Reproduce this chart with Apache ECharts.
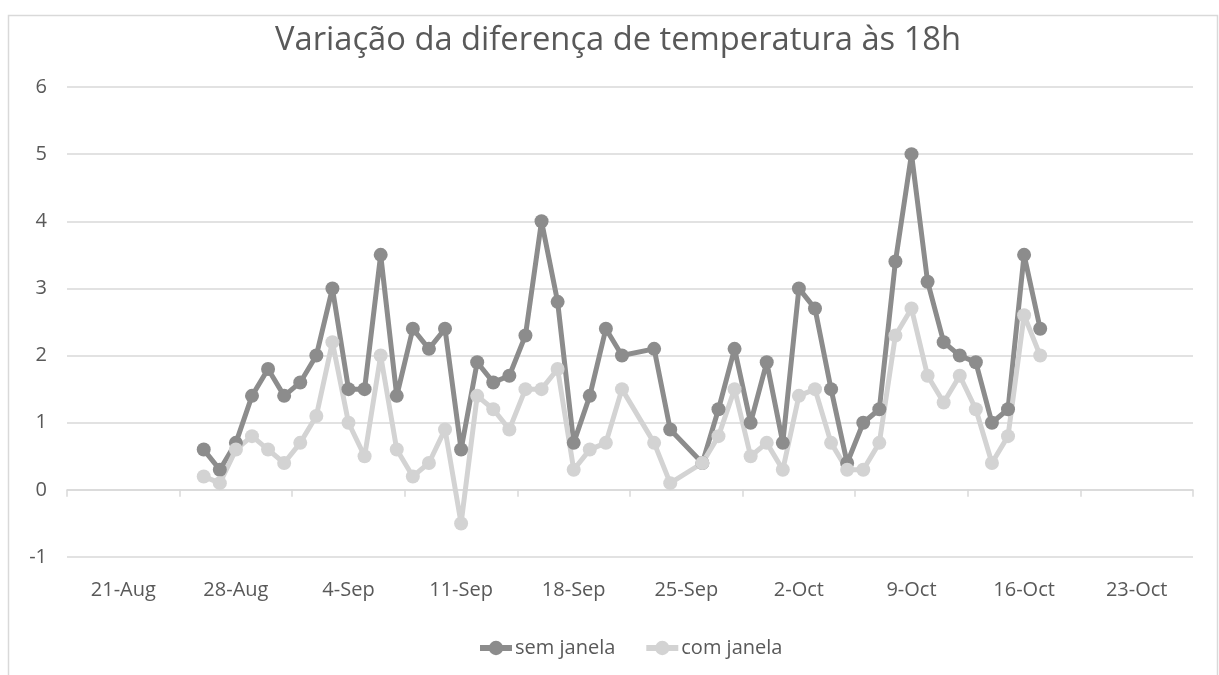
<!DOCTYPE html>
<html><head><meta charset="utf-8">
<script src="https://cdn.jsdelivr.net/npm/echarts@6/dist/echarts.min.js"></script>
<style>html,body{margin:0;padding:0;background:#fff}#c{width:1219px;height:675px}</style>
</head><body><div id="c"></div>
<script>
// Measurement dates (day of each reading)
const dates = [
  '2019-08-26','2019-08-27','2019-08-28','2019-08-29','2019-08-30','2019-08-31',
  '2019-09-01','2019-09-02','2019-09-03','2019-09-04','2019-09-05','2019-09-06','2019-09-07',
  '2019-09-08','2019-09-09','2019-09-10','2019-09-11','2019-09-12','2019-09-13','2019-09-14',
  '2019-09-15','2019-09-16','2019-09-17','2019-09-18','2019-09-19','2019-09-20','2019-09-21',
  '2019-09-23','2019-09-24',
  '2019-09-26','2019-09-27','2019-09-28','2019-09-29','2019-09-30',
  '2019-10-01','2019-10-02','2019-10-03','2019-10-04','2019-10-05','2019-10-06','2019-10-07',
  '2019-10-08','2019-10-09','2019-10-10','2019-10-11','2019-10-12','2019-10-13','2019-10-14',
  '2019-10-15','2019-10-16','2019-10-17'
];
const semJanela = [
  0.6,0.3,0.7,1.4,1.8,1.4,
  1.6,2.0,3.0,1.5,1.5,3.5,1.4,2.4,2.1,2.4,0.6,1.9,1.6,1.7,2.3,4.0,2.8,0.7,1.4,2.4,2.0,
  2.1,0.9,
  0.4,1.2,2.1,1.0,1.9,
  0.7,3.0,2.7,1.5,0.4,1.0,1.2,3.4,5.0,3.1,2.2,2.0,1.9,1.0,1.2,3.5,2.4
];
const comJanela = [
  0.2,0.1,0.6,0.8,0.6,0.4,
  0.7,1.1,2.2,1.0,0.5,2.0,0.6,0.2,0.4,0.9,-0.5,1.4,1.2,0.9,1.5,1.5,1.8,0.3,0.6,0.7,1.5,
  0.7,0.1,
  0.4,0.8,1.5,0.5,0.7,
  0.3,1.4,1.5,0.7,0.3,0.3,0.7,2.3,2.7,1.7,1.3,1.7,1.2,0.4,0.8,2.6,2.0
];
const tickLabels = ['21-Aug','28-Aug','4-Sep','11-Sep','18-Sep','25-Sep','2-Oct','9-Oct','16-Oct','23-Oct'];
const seriesNames = ['sem janela','com janela'];
const titleText = 'Variação da diferença de temperatura às 18h';

const axisStartUTC = Date.UTC(2019, 7, 18); // first day of the date axis
function dayIndex(s) {
  const p = s.split('-').map(Number);
  return (Date.UTC(p[0], p[1] - 1, p[2]) - axisStartUTC) / 86400000;
}
const totalDays = tickLabels.length * 7;

const FONT = '"Open Sans", "Noto Sans", sans-serif';
const TXT = '#595959';
const GRID = '#d9d9d9';

const chart = echarts.init(document.getElementById('c'), null, {renderer: 'canvas'});
chart.setOption({
  animation: false,
  backgroundColor: '#fff',
  graphic: [{
    type: 'rect', silent: true, z: -10,
    shape: {x: 8.5, y: 15.5, width: 1209, height: 700},
    style: {fill: '#fff', stroke: '#d9d9d9', lineWidth: 1.5}
  }],
  title: {
    text: titleText, left: 270, top: 19,
    textStyle: {fontFamily: FONT, fontSize: 32.7, fontWeight: 'normal', color: TXT}
  },
  legend: {
    data: seriesNames, left: 472, top: 633, itemWidth: 32, itemHeight: 18, itemGap: 28,
    lineStyle: {width: 6},
    textStyle: {fontFamily: FONT, fontSize: 20, color: TXT, padding: [0, 0, 0, -2]}
  },
  grid: {left: 67, right: 26, top: 87, bottom: 118, containLabel: false},
  xAxis: [{
    type: 'value', min: -0.5, max: totalDays - 0.5, interval: 7,
    axisLine: {show: true, onZero: true, lineStyle: {color: GRID, width: 1.5}},
    axisTick: {show: true, length: 7, lineStyle: {color: GRID, width: 1.5}},
    axisLabel: {show: false}, splitLine: {show: false}
  }, {
    type: 'category', data: tickLabels, position: 'bottom', boundaryGap: true,
    axisLine: {show: false, onZero: false}, axisTick: {show: false}, splitLine: {show: false},
    axisLabel: {margin: 23, fontFamily: FONT, fontSize: 20, color: TXT}
  }],
  yAxis: {
    type: 'value', min: -1, max: 6, interval: 1,
    axisLine: {show: false}, axisTick: {show: false},
    axisLabel: {margin: 20, fontFamily: FONT, fontSize: 20, color: TXT},
    splitLine: {lineStyle: {color: GRID, width: 1.5}}
  },
  series: [{
    name: seriesNames[0], type: 'line', xAxisIndex: 0,
    data: dates.map((d, i) => [dayIndex(d), semJanela[i]]),
    symbol: 'circle', symbolSize: 14, color: '#8c8c8c',
    lineStyle: {width: 5, color: '#8c8c8c'}, itemStyle: {color: '#8c8c8c'}
  }, {
    name: seriesNames[1], type: 'line', xAxisIndex: 0,
    data: dates.map((d, i) => [dayIndex(d), comJanela[i]]),
    symbol: 'circle', symbolSize: 14, color: '#d3d3d3',
    lineStyle: {width: 5, color: '#d3d3d3'}, itemStyle: {color: '#d3d3d3'}
  }]
});
</script></body></html>
